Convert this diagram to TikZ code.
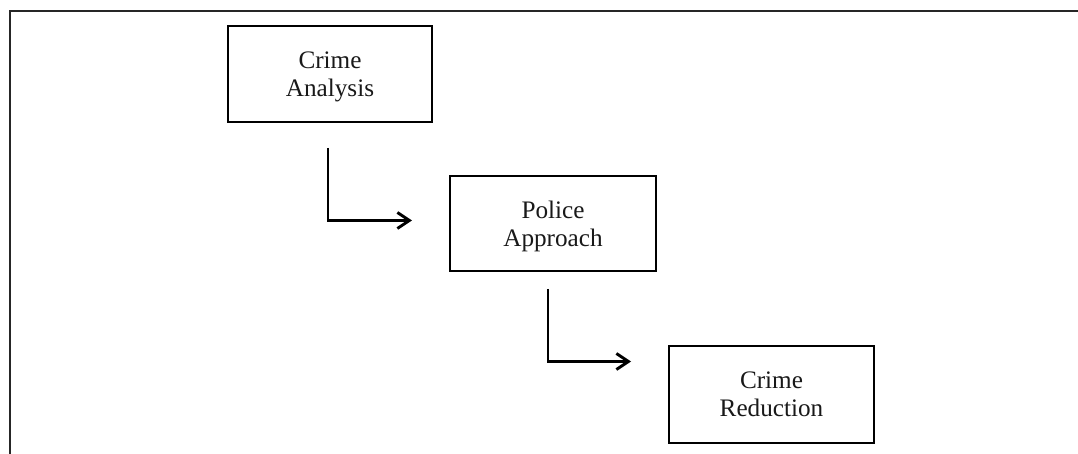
\documentclass[tikz,border=0pt]{standalone}
\usepackage{fontspec}
\setmainfont{Liberation Serif}
\usetikzlibrary{arrows.meta,calc}
\tikzset{
  stagebox/.style={draw=black, line width=1pt, fill=white, align=center, inner sep=0pt,
    font=\fontsize{12.6pt}{14pt}\selectfont, text=black!90, text depth=0pt},
  flowarrow/.style={line width=1.45pt, -{Straight Barb[length=6pt,width=8pt,line width=1.45pt]}},
  framelines/.style={line width=1.3pt, draw=black!85}
}
\begin{document}
\begin{tikzpicture}[x=0.5pt,y=-0.5pt]
\useasboundingbox (0,0) rectangle (1078,454);
\coordinate (ftop) at (1078,11);
\coordinate (fcorner) at (10,11);
\coordinate (fbot) at (10,454);
\draw[framelines] (ftop) -- (fcorner) -- (fbot);

\node[stagebox, minimum width=102pt, minimum height=48pt] (ca) at (330,74) {Crime\\Analysis};
\node[stagebox, minimum width=103pt, minimum height=47.5pt] (pa) at (553,223.5) {Police\\Approach};
\node[stagebox, minimum width=102.5pt, minimum height=48.5pt] (cr) at (771.5,394.5) {Crime\\Reduction};

\coordinate (s1) at ($(ca.south)+(-2,25)$);
\coordinate (e1) at ($(pa.west)+(-37,-3)$);
\draw[flowarrow] (s1) |- (e1);

\coordinate (s2) at ($(pa.south)+(-5,17)$);
\coordinate (e2) at ($(cr.west)+(-37,-33)$);
\draw[flowarrow] (s2) |- (e2);
\end{tikzpicture}
\end{document}
